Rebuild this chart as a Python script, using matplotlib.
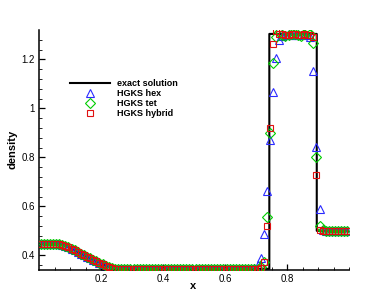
import matplotlib
matplotlib.use("Agg")
import matplotlib.pyplot as plt
import numpy as np

# ---------------- data ----------------
# exact solution (Lax shock tube, density)
exact_x = [0.0, 0.079, 0.10, 0.12, 0.14, 0.16, 0.18, 0.20, 0.22, 0.242,
           0.743, 0.743, 0.896, 0.896, 1.0]
exact_rho = [0.445, 0.445, 0.430, 0.417, 0.404, 0.391, 0.379, 0.367, 0.355, 0.345,
             0.345, 1.304, 1.304, 0.500, 0.500]

x_cells = [0.005, 0.015, 0.025, 0.035, 0.045, 0.055, 0.065, 0.075, 0.085, 0.095,
           0.105, 0.115, 0.125, 0.135, 0.145, 0.155, 0.165, 0.175, 0.185, 0.195,
           0.205, 0.215, 0.225, 0.235, 0.245, 0.255, 0.265, 0.275, 0.285, 0.295,
           0.305, 0.315, 0.325, 0.335, 0.345, 0.355, 0.365, 0.375, 0.385, 0.395,
           0.405, 0.415, 0.425, 0.435, 0.445, 0.455, 0.465, 0.475, 0.485, 0.495,
           0.505, 0.515, 0.525, 0.535, 0.545, 0.555, 0.565, 0.575, 0.585, 0.595,
           0.605, 0.615, 0.625, 0.635, 0.645, 0.655, 0.665, 0.675, 0.685, 0.695,
           0.705, 0.715, 0.725, 0.735, 0.745, 0.755, 0.765, 0.775, 0.785, 0.795,
           0.805, 0.815, 0.825, 0.835, 0.845, 0.855, 0.865, 0.875, 0.885, 0.895,
           0.905, 0.915, 0.925, 0.935, 0.945, 0.955, 0.965, 0.975, 0.985, 0.995]

left_part = [0.445, 0.445, 0.445, 0.445, 0.445, 0.445, 0.445, 0.444, 0.440, 0.434,
             0.427, 0.420, 0.414, 0.407, 0.401, 0.394, 0.388, 0.382, 0.376, 0.370,
             0.364, 0.358, 0.353, 0.348, 0.346, 0.345, 0.345, 0.345, 0.345, 0.345,
             0.345, 0.345, 0.345, 0.345, 0.345, 0.345, 0.345, 0.345, 0.345, 0.345,
             0.345, 0.345, 0.345, 0.345, 0.345, 0.345, 0.345, 0.345, 0.345, 0.345,
             0.345, 0.345, 0.345, 0.345, 0.345, 0.345, 0.345, 0.345, 0.345, 0.345,
             0.345, 0.345, 0.345, 0.345, 0.345, 0.345, 0.345, 0.345, 0.345, 0.345]

right_state = [0.500, 0.500, 0.500, 0.500, 0.500, 0.500, 0.500, 0.500]

hex_rho = left_part[:-1] + [0.347,
           0.359, 0.390, 0.489, 0.663, 0.871, 1.067, 1.207, 1.280, 1.297, 1.300,
           1.302, 1.301, 1.300, 1.299, 1.300, 1.302, 1.298, 1.290, 1.152, 0.843,
           0.589, 0.505] + right_state

tet_rho = left_part + [
           0.346, 0.352, 0.372, 0.556, 0.900, 1.187, 1.290, 1.310, 1.300, 1.296,
           1.298, 1.302, 1.304, 1.300, 1.295, 1.305, 1.310, 1.305, 1.268, 0.803,
           0.520, 0.502] + right_state

hyb_rho = left_part + [
           0.345, 0.350, 0.372, 0.518, 0.920, 1.262, 1.316, 1.305, 1.302, 1.300,
           1.301, 1.303, 1.302, 1.300, 1.301, 1.302, 1.300, 1.300, 1.293, 0.728,
           0.502, 0.500] + right_state

x_ticks = [0.2, 0.4, 0.6, 0.8]
x_tick_labels = ["0.2", "0.4", "0.6", "0.8"]
y_ticks = [0.4, 0.6, 0.8, 1.0, 1.2]
y_tick_labels = ["0.4", "0.6", "0.8", "1", "1.2"]
x_minor = [0.05, 0.1, 0.15, 0.25, 0.3, 0.35, 0.45, 0.5, 0.55, 0.65, 0.7, 0.75,
           0.85, 0.9, 0.95, 1.0]
y_minor = [0.36, 0.44, 0.48, 0.52, 0.56, 0.64, 0.68, 0.72, 0.76, 0.84, 0.88,
           0.92, 0.96, 1.04, 1.08, 1.12, 1.16, 1.24, 1.28]

# ---------------- plot ----------------
plt.rcParams['font.family'] = ['Liberation Sans', 'DejaVu Sans']

fig = plt.figure(figsize=(3.87, 3.01), dpi=100)
ax = fig.add_axes([39/387, 1-270/301, 310/387, 240/301])

ax.plot(exact_x, exact_rho, color='black', lw=1.5, label='exact solution', zorder=1)
ax.plot(x_cells, hex_rho, ls='none', marker='^', ms=5.6, mfc='none', mec='#2a2aff',
        mew=0.8, label='HGKS hex', zorder=2)
ax.plot(x_cells, tet_rho, ls='none', marker='D', ms=4.6, mfc='none', mec='#00cc00',
        mew=0.8, label='HGKS tet', zorder=3)
ax.plot(x_cells, hyb_rho, ls='none', marker='s', ms=4.9, mfc='none', mec='#e01010',
        mew=0.8, label='HGKS hybrid', zorder=4)

ax.set_xlim(0.0, 1.0)
ax.set_ylim(0.34, 1.32)
ax.set_xticks(x_ticks)
ax.set_xticklabels(x_tick_labels)
ax.set_yticks(y_ticks)
ax.set_yticklabels(y_tick_labels)
ax.set_xticks(x_minor, minor=True)
ax.set_yticks(y_minor, minor=True)

for s in ['top', 'right']:
    ax.spines[s].set_visible(False)
for s in ['left', 'bottom']:
    ax.spines[s].set_linewidth(1.1)

ax.tick_params(which='major', direction='in', length=4.5, width=0.9, labelsize=7,
               pad=3, colors='black')
ax.tick_params(which='minor', direction='in', length=2.2, width=0.6)

fig.text(193/387, 1-286/301, 'x', ha='center', va='center', fontsize=8,
         fontweight='bold')
fig.text(12/387, 1-149/301, 'density', ha='center', va='center', rotation=90,
         fontsize=8, fontweight='bold')

leg = ax.legend(loc='upper left', bbox_to_anchor=(70/387, 1-79/301),
                bbox_transform=fig.transFigure, frameon=False, fontsize=6.5,
                handlelength=4.4, handletextpad=0.8, labelspacing=0.12,
                borderpad=0, borderaxespad=0, numpoints=1)
for t in leg.get_texts():
    t.set_fontweight('bold')

fig.savefig('out.png', dpi=100)
